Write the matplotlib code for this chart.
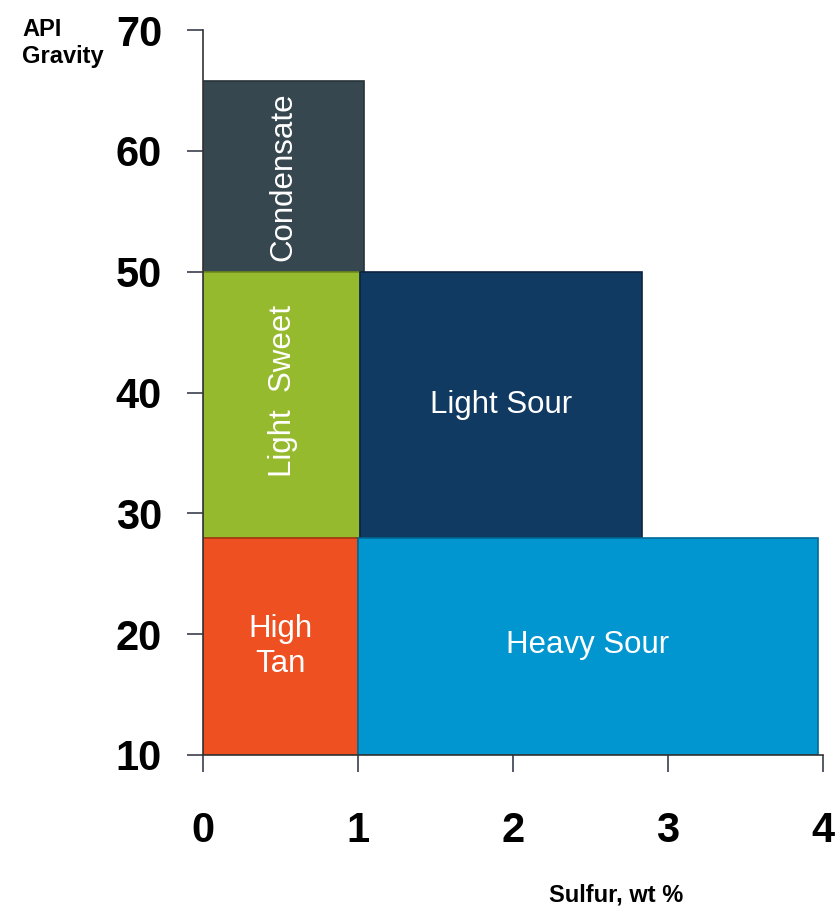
import matplotlib
matplotlib.use('Agg')
import matplotlib.pyplot as plt
from matplotlib.patches import Rectangle

plt.rcParams['font.family'] = ['Liberation Sans', 'DejaVu Sans']

# crude classes: sulfur range (x) and API gravity range (y)
names = ['Condensate', 'Light  Sweet', 'Light Sour', 'High\nTan', 'Heavy Sour']
sulfur_lo = [0.0, 0.0, 1.01, 0.0, 1.0]
sulfur_hi = [1.04, 1.01, 2.83, 1.0, 3.97]
api_lo = [50, 28, 28, 10, 10]
api_hi = [65.8, 50, 50, 28, 28]
colors = ['#37474f', '#96ba2e', '#113a63', '#ee5022', '#0196d0']
edges = ['#263238', '#6f8a20', '#0a2440', '#a83510', '#016a95']
label_x = [0.516, 0.516, 1.92, 0.50, 2.48]
label_y = [57.9, 40.1, 39.0, 19.0, 19.1]
label_rot = [90, 90, 0, 0, 0]

x_ticks = [0, 1, 2, 3, 4]
y_ticks = [10, 20, 30, 40, 50, 60, 70]


def plot_crude_classes():
    fig = plt.figure(figsize=(8.37, 9.10), dpi=100)
    ax = fig.add_axes([203 / 837, 155 / 910, 620 / 837, 725 / 910])

    for i, name in enumerate(names):
        ax.add_patch(Rectangle(
            (sulfur_lo[i], api_lo[i]),
            sulfur_hi[i] - sulfur_lo[i],
            api_hi[i] - api_lo[i],
            facecolor=colors[i],
            edgecolor=edges[i],
            linewidth=1.2,
            zorder=2
        ))
        ax.text(label_x[i], label_y[i], name, color='white', fontsize=22.5,
                rotation=label_rot[i], ha='center', va='center',
                linespacing=1.2, zorder=3)

    ax.set_xlim(0, 4)
    ax.set_ylim(10, 70)
    ax.set_xticks(x_ticks)
    ax.set_yticks(y_ticks)
    ax.set_xticklabels([str(t) for t in x_ticks], fontsize=30, fontweight='bold')
    ax.set_yticklabels([str(t) for t in y_ticks], fontsize=30, fontweight='bold')

    for side in ['top', 'right']:
        ax.spines[side].set_visible(False)
    for side in ['left', 'bottom']:
        ax.spines[side].set_color('#333333')
        ax.spines[side].set_linewidth(1.2)

    ax.tick_params(axis='y', direction='out', length=11.5, width=1.2,
                   color='#3a3d4d', pad=18)
    ax.tick_params(axis='x', direction='out', length=12, width=1.2,
                   color='#3a3d4d', pad=28)

    fig.text(22 / 837, 1 - 18 / 910, 'API\nGravity', fontsize=17,
             fontweight='bold', ha='left', va='top', linespacing=1.2)
    fig.text(616 / 837, 1 - 895 / 910, 'Sulfur, wt %', fontsize=17,
             fontweight='bold', ha='center', va='center')

    fig.savefig('out.png', dpi=100)


if __name__ == '__main__':
    plot_crude_classes()
